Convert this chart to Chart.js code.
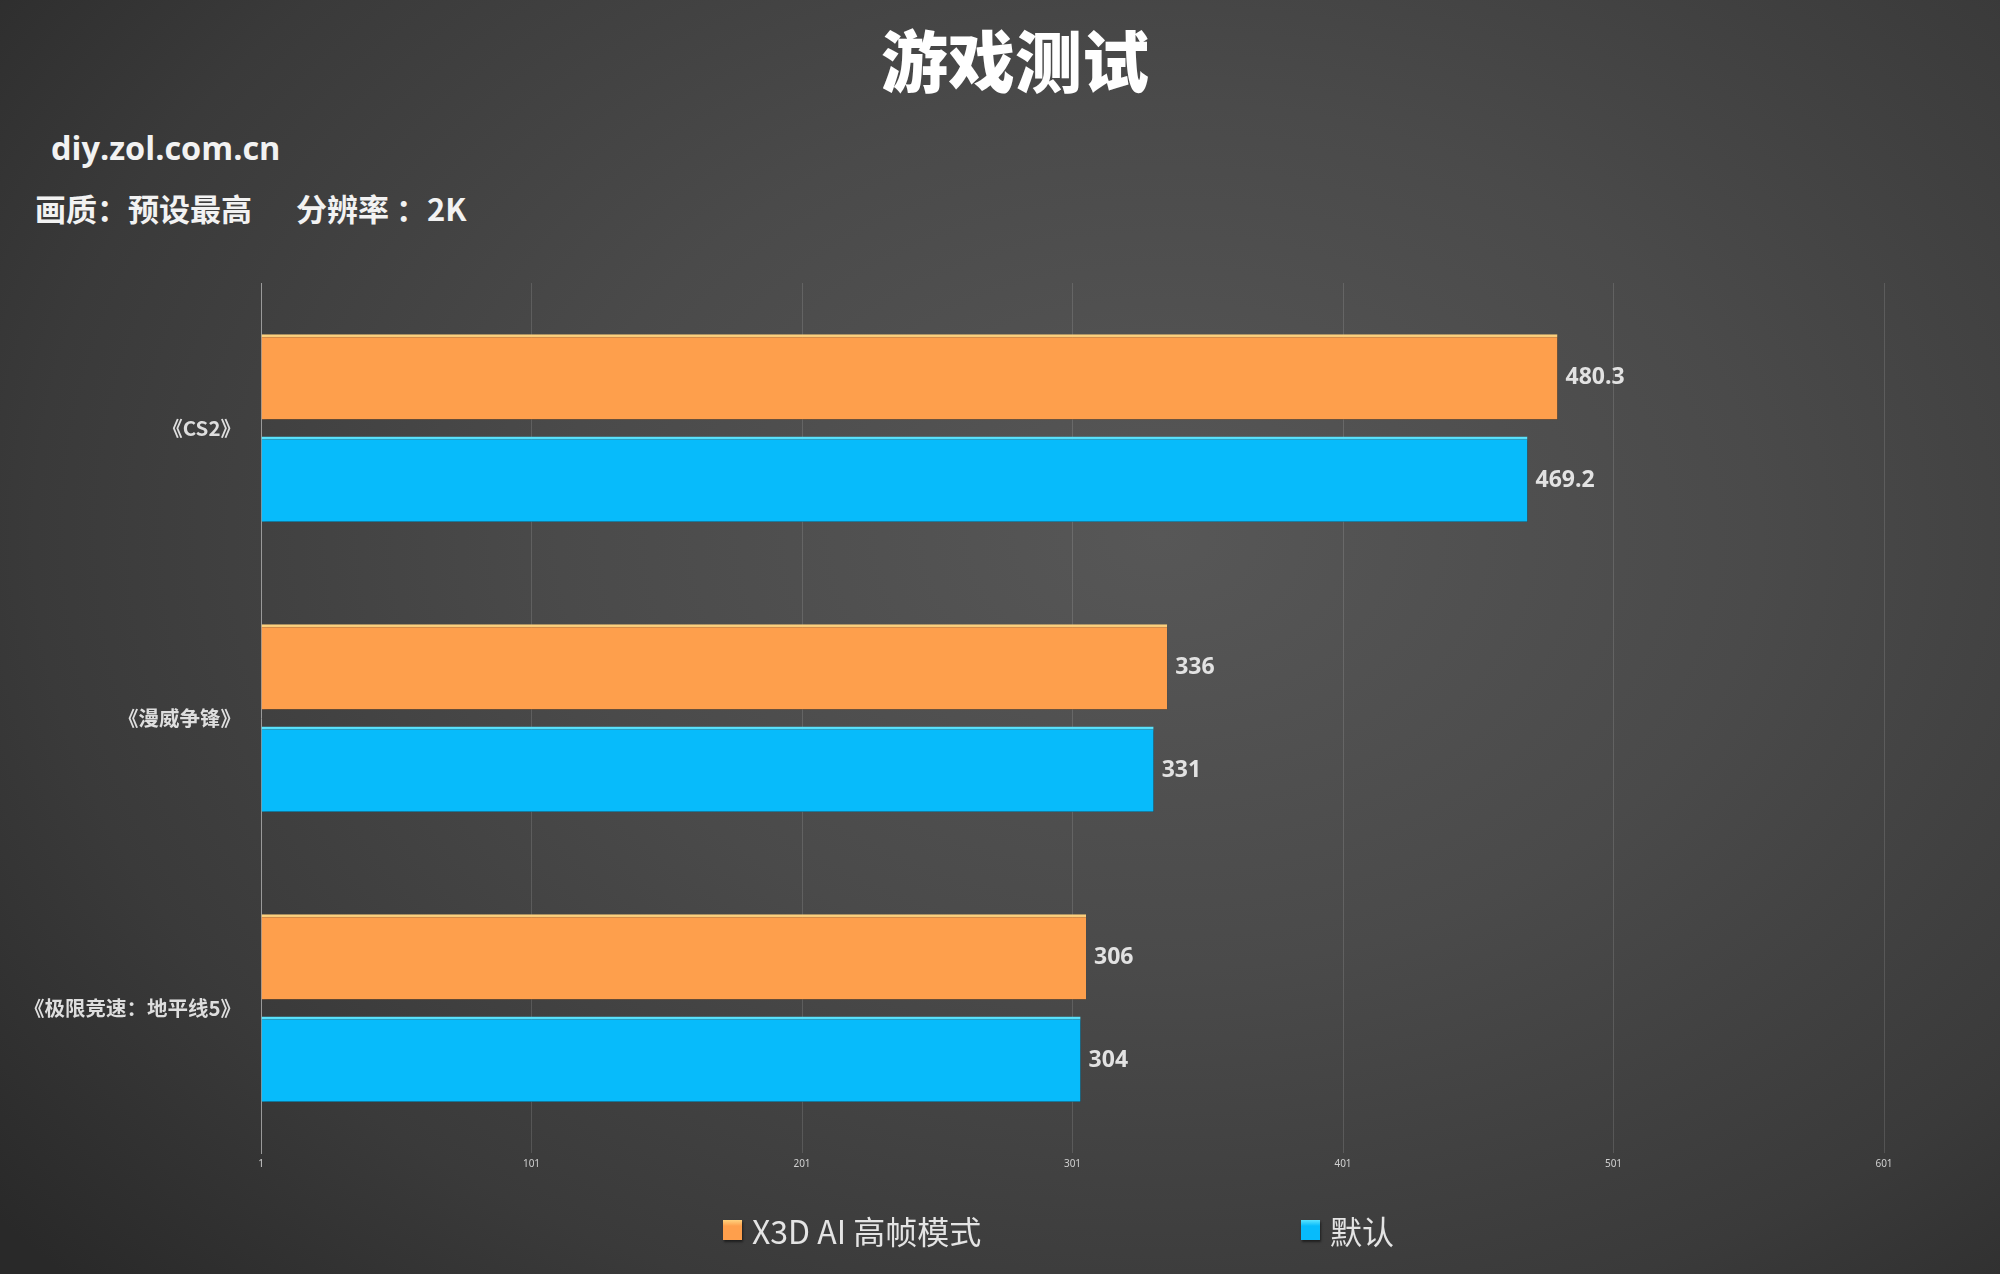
<!DOCTYPE html>
<html>
<head>
<meta charset="utf-8">
<script src="https://cdn.jsdelivr.net/npm/chart.js@4/dist/chart.umd.min.js"></script>
<style>
  html, body { margin: 0; padding: 0; }
  body {
    width: 2000px; height: 1274px; overflow: hidden; position: relative;
    background: radial-gradient(ellipse 75% 85% at 58% 42%, #575757 0%, #4a4a4a 40%, #3a3a3a 75%, #292929 100%);
    font-family: "Noto Sans CJK SC", "Noto Sans", sans-serif;
  }
  #chart { position: absolute; left: 0; top: 0; }
  .title {
    position: absolute; left: 0; width: 2030px; top: 18px; text-align: center;
    font-size: 67px; font-weight: 900; color: #fff; line-height: 80px;
  }
  .site { position: absolute; left: 51px; top: 128px; font-size: 32.5px; font-weight: bold; color: #f2f2f2; line-height: 40px; font-family: "Open Sans", "Noto Sans", sans-serif; }
  .sub { position: absolute; top: 188px; font-size: 31px; font-weight: bold; color: #f2f2f2; line-height: 40px; white-space: pre; }
  #legend { position: absolute; top: 1210px; left: 0; width: 2000px; height: 44px; }
  .item { position: absolute; display: flex; align-items: center; font-size: 32px; color: #e4e4e4; line-height: 40px; }
  .box { width: 19px; height: 20px; margin-right: 10px; box-shadow: 1px 2px 2px rgba(0,0,0,0.5); }
</style>
</head>
<body>
<div class="title">游戏测试</div>
<div class="site">diy.zol.com.cn</div>
<div class="sub" style="left:35px">画质：预设最高</div>
<div class="sub" style="left:296px">分辨率 ：2K</div>
<canvas id="chart" width="2000" height="1274"></canvas>
<div id="legend"></div>
<script>
const games = ['《CS2》', '《漫威争锋》', '《极限竞速：地平线5》'];
const x3dAiMode = [480.3, 336, 306];
const defaultMode = [469.2, 331, 304];
const xTicks = [1, 101, 201, 301, 401, 501, 601];
const seriesNames = ['X3D AI 高帧模式', '默认'];

const orange = '#fe9f4c';
const blue = '#07bbfb';

// bar shadow + value labels
const barExtras = {
  id: 'barExtras',
  beforeDatasetsDraw(chart) {
    const ctx = chart.ctx;
    ctx.save();
    ctx.shadowColor = 'rgba(0,0,0,0.6)';
    ctx.shadowBlur = 4;
    ctx.shadowOffsetX = 2;
    ctx.shadowOffsetY = 3;
  },
  afterDatasetsDraw(chart) {
    const ctx = chart.ctx;
    ctx.restore();
    ctx.save();
    ctx.font = 'bold 23px "Open Sans", "Noto Sans", sans-serif';
    ctx.fillStyle = '#e2e2e2';
    ctx.textAlign = 'left';
    ctx.textBaseline = 'middle';
    chart.data.datasets.forEach((ds, i) => {
      chart.getDatasetMeta(i).data.forEach((bar, j) => {
        ctx.fillText(String(ds.data[j]), bar.x + 8, bar.y + 1);
      });
    });
    ctx.restore();
  }
};

const chart = new Chart(document.getElementById('chart'), {
  type: 'bar',
  data: {
    labels: games,
    datasets: [
      {
        label: seriesNames[0],
        data: x3dAiMode,
        backgroundColor: orange,
        borderColor: '#ffd27e',
        borderWidth: { top: 3, right: 0, bottom: 0, left: 0 },
        borderSkipped: false,
        base: 1,
        barPercentage: 0.835,
        categoryPercentage: 0.705,
      },
      {
        label: seriesNames[1],
        data: defaultMode,
        backgroundColor: blue,
        borderColor: '#5ae4ff',
        borderWidth: { top: 3, right: 0, bottom: 0, left: 0 },
        borderSkipped: false,
        base: 1,
        barPercentage: 0.835,
        categoryPercentage: 0.705,
      },
    ],
  },
  options: {
    indexAxis: 'y',
    responsive: false,
    animation: false,
    layout: { padding: { top: 283, right: 116, bottom: 0, left: 0 } },
    plugins: {
      legend: { display: false },
      tooltip: { enabled: false },
    },
    scales: {
      x: {
        min: 1,
        max: 601,
        afterBuildTicks: (axis) => { axis.ticks = xTicks.map((v) => ({ value: v })); },
        afterFit: (axis) => { axis.height = 121; },
        grid: { color: 'rgba(255,255,255,0.13)', lineWidth: 1, drawTicks: false },
        border: { display: false },
        ticks: {
          color: '#d0d0d0',
          padding: 5,
          maxRotation: 0,
          font: { size: 10, family: '"Noto Sans", sans-serif' },
        },
      },
      y: {
        afterFit: (axis) => { axis.width = 261; },
        grid: { display: false, drawTicks: false },
        border: { display: true, color: '#9a9a9a', width: 1 },
        ticks: {
          color: '#dedede',
          padding: 20,
          font: { size: 20.5, weight: 'bold', family: '"Noto Sans CJK SC", sans-serif' },
        },
      },
    },
  },
  plugins: [barExtras],
});

// legend from datasets
const legendLefts = [723, 1301];
const legend = document.getElementById('legend');
chart.data.datasets.forEach((ds, i) => {
  const item = document.createElement('div');
  item.className = 'item';
  item.style.left = legendLefts[i] + 'px';
  const box = document.createElement('span');
  box.className = 'box';
  box.style.background = 'linear-gradient(' + ds.borderColor + ' 0%, ' + ds.backgroundColor + ' 30%, ' + ds.backgroundColor + ' 100%)';
  const txt = document.createElement('span');
  txt.textContent = ds.label;
  item.appendChild(box);
  item.appendChild(txt);
  legend.appendChild(item);
});
</script>
</body>
</html>
